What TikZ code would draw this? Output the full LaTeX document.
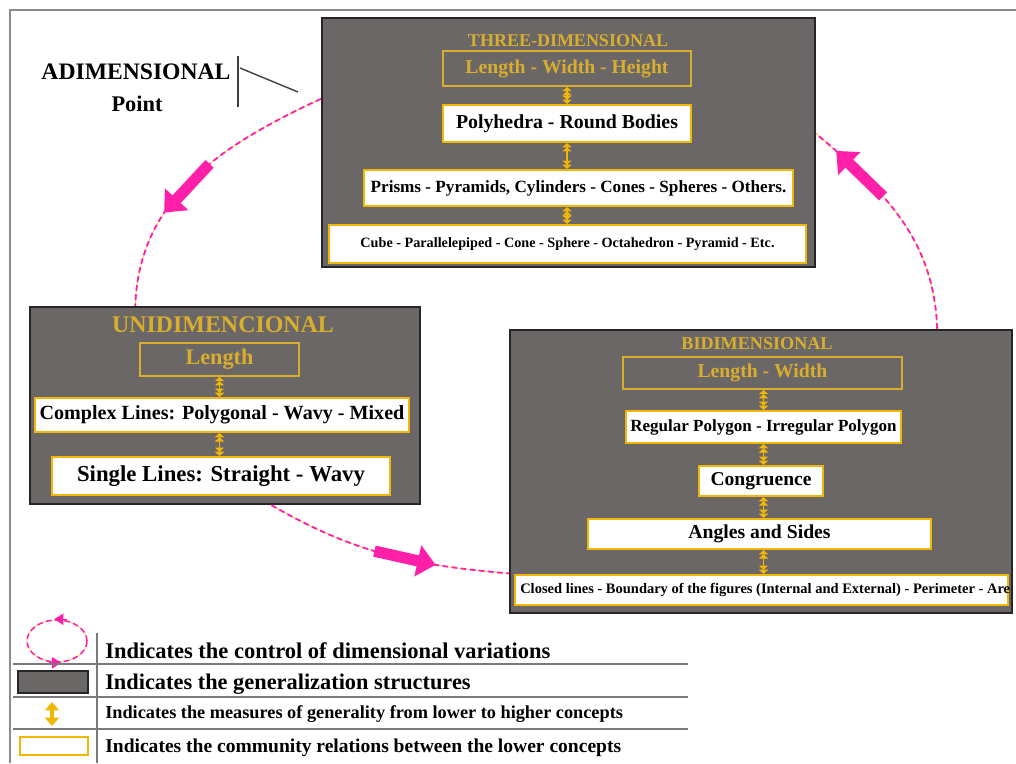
\documentclass[tikz,border=0pt]{standalone}
\usepackage{fontspec}
\setmainfont{Liberation Serif}
\usetikzlibrary{arrows.meta,shapes.geometric}
\definecolor{slab}{HTML}{6B6767}
\definecolor{gold}{HTML}{D9AE2E}
\definecolor{amber}{HTML}{F2B705}
\definecolor{rose}{HTML}{FF1FA8}
\definecolor{rule}{HTML}{7A7A7A}
\newcommand{\fsz}[1]{\fontsize{#1}{#1}\selectfont}

\begin{document}
\begin{tikzpicture}[x=0.025cm,y=-0.025cm,font=\bfseries,
 panel/.style={draw=black!85,line width=1.6pt,fill=slab,inner sep=0pt},
 title/.style={text=gold,inner sep=0pt},
 measure/.style={draw=gold,line width=1.4pt,text=gold,inner sep=0pt},
 concept/.style={draw=amber,line width=1.5pt,fill=white,inner sep=0pt},
 rise/.style={draw=amber,line width=1.4pt,
   {Triangle[length=3pt,width=6.5pt] Triangle[length=3pt,width=6.5pt]}-{Triangle[length=3pt,width=6.5pt] Triangle[length=3pt,width=6.5pt]}},
 dimloop/.style={draw=rose,line width=1.3pt,dash pattern=on 4pt off 2.5pt,
   preaction={draw=amber!70,line width=0.5pt,solid}},
 bigarrow/.style={draw=rose,line width=8pt,-{Triangle[length=13pt,width=22pt]}},
 stem/.style={draw=black!75,line width=1pt},
 rulers/.style={draw=rule,line width=1.4pt},
 legtip/.style={draw=rose,line width=1pt,-{Triangle[length=6.5pt,width=8pt]}}]
\useasboundingbox (0,0) rectangle (1016,763);
\draw[draw=black!45,line width=1.2pt] (10,763) -- (10,10) -- (1016,10);

% three-dimensional structure
\node[panel,minimum width=12.325cm,minimum height=6.225cm] (three) at (568.5,142.5) {};
\node[title] (threetitle) at (568,41) {\fsz{12.8}THREE-DIMENSIONAL};
\node[measure,minimum width=6.2cm,minimum height=0.875cm] (lwh) at (567,68.5) {\fsz{14}Length - Width - Height};
\node[concept,minimum width=6.2cm,minimum height=0.925cm] (poly) at (567,123.5) {\fsz{14.1}Polyhedra - Round Bodies};
\node[concept,minimum width=10.725cm,minimum height=0.9cm] (prism) at (578.5,188) {\fsz{12.2}Prisms - Pyramids, Cylinders - Cones - Spheres - Others.};
\node[concept,minimum width=11.925cm,minimum height=0.95cm] (cube) at (567.5,244) {\fsz{10.1}Cube - Parallelepiped - Cone - Sphere - Octahedron - Pyramid - Etc.};
\draw[rise] (lwh.south) -- (lwh.south |- poly.north);
\draw[rise] (poly.south) -- (poly.south |- prism.north);
\draw[rise] (prism.south -| poly) -- (cube.north -| poly);

% one-dimensional structure
\node[panel,minimum width=9.75cm,minimum height=4.925cm] (uni) at (225,405.5) {};
\node[title] (unititle) at (223,325) {\fsz{17}UNIDIMENCIONAL};
\node[measure,minimum width=3.975cm,minimum height=0.825cm] (ulen) at (219.5,359.5) {\fsz{15.8}Length};
\node[concept,minimum width=9.35cm,minimum height=0.85cm] (complex) at (222,415) {\fsz{14.3}Complex Lines: Polygonal - Wavy - Mixed};
\node[concept,minimum width=8.45cm,minimum height=0.95cm] (single) at (221,476) {\fsz{16.2}Single Lines: Straight - Wavy};
\draw[rise] (ulen.south) -- (ulen.south |- complex.north);
\draw[rise] (complex.south -| ulen) -- (single.north -| ulen);

% two-dimensional structure
\node[panel,minimum width=12.55cm,minimum height=7.075cm] (bi) at (761,471.5) {};
\node[title] (bititle) at (757,344) {\fsz{12.9}BIDIMENSIONAL};
\node[measure,minimum width=6.975cm,minimum height=0.8cm] (blw) at (762.5,373) {\fsz{14}Length - Width};
\node[concept,minimum width=6.875cm,minimum height=0.8cm] (regular) at (763.5,427) {\fsz{12.1}Regular Polygon - Irregular Polygon};
\node[concept,minimum width=3.1cm,minimum height=0.75cm] (congr) at (761,481) {\fsz{13.9}Congruence};
\node[concept,minimum width=8.575cm,minimum height=0.75cm] (angles) at (759.5,534) {\fsz{14}Angles and Sides};
\node[concept,minimum width=12.325cm,minimum height=0.75cm] (closed) at (761.5,590) {};
\begin{scope}
\clip (closed.south west) rectangle (closed.north east);
\node[anchor=west,inner sep=0pt] (closedtext) at (520,590) {\fsz{10.3}Closed lines - Boundary of the figures (Internal and External) - Perimeter - Area};
\end{scope}
\draw[rise] (blw.south -| regular) -- (regular.north);
\draw[rise] (regular.south) -- (regular.south |- congr.north);
\draw[rise] (congr.south -| regular) -- (angles.north -| regular);
\draw[rise] (angles.south -| regular) -- (closed.north -| regular);

% zero-dimensional
\node (adim) at (136,72) {\fsz{16.8}ADIMENSIONAL};
\node (point) at (137,104) {\fsz{15.9}Point};
\coordinate (bartop) at (238,56);
\coordinate (barbot) at (238,107);
\coordinate (barjoin) at (240,68);
\coordinate (pointer) at (298,92);
\draw[stem] (bartop) -- (barbot);
\draw[stem] (barjoin) -- (pointer);

% dimensional variations
\draw[dimloop] (three.170) to[out=205,in=88] coordinate[pos=0.42] (a1s) coordinate[pos=0.66] (a1e) (uni.132);
\draw[dimloop] (uni.-65) to[out=-30,in=175] coordinate[pos=0.45] (a2s) coordinate[pos=0.72] (a2e) (bi.202);
\draw[dimloop] (bi.39) to[out=92,in=-40] coordinate[pos=0.63] (a3s) coordinate[pos=0.9] (a3e) (three.2);
\draw[bigarrow] (a1s) -- (a1e);
\draw[bigarrow] (a2s) -- (a2e);
\draw[bigarrow] (a3s) -- (a3e);

% legend
\node[dimloop,line width=1.1pt,ellipse,minimum width=1.5cm,minimum height=1.05cm,inner sep=0pt] (legloop) at (57,641) {};
\draw[legtip] ([xshift=7pt]legloop.north) -- ([xshift=-2pt]legloop.north);
\draw[legtip] ([xshift=-6pt]legloop.south) -- ([xshift=3pt]legloop.south);
\node[panel,line width=1pt,minimum width=1.75cm,minimum height=0.55cm] (leggen) at (53,682) {};
\coordinate (legup) at (52,702);
\coordinate (legdown) at (52,726);
\draw[draw=amber,line width=3pt,{Triangle[length=6pt,width=10pt]}-{Triangle[length=6pt,width=10pt]}] (legup) -- (legdown);
\node[concept,minimum width=1.7cm,minimum height=0.45cm] (legcom) at (54,746) {};
\coordinate (divtop) at (97,633);
\coordinate (divbot) at (97,763);
\draw[rulers] (divtop) -- (divbot);
\foreach \yy in {664,697,729}
  \draw[rulers] (13,\yy) -- (688,\yy);
\node[anchor=west,inner sep=0pt] (legtext1) at (105,651) {\fsz{16}Indicates the control of dimensional variations};
\node[anchor=west,inner sep=0pt] (legtext2) at (105,684) {\fsz{15.9}Indicates the generalization structures};
\node[anchor=west,inner sep=0pt] (legtext3) at (105,714) {\fsz{13}Indicates the measures of generality from lower to higher concepts};
\node[anchor=west,inner sep=0pt] (legtext4) at (105,748) {\fsz{13.9}Indicates the community relations between the lower concepts};
\end{tikzpicture}
\end{document}
